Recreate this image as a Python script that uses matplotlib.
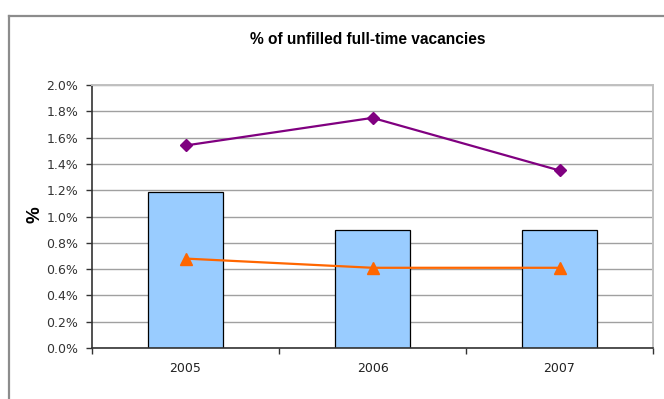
import matplotlib
matplotlib.use('Agg')
import matplotlib.pyplot as plt
from matplotlib.lines import Line2D
from matplotlib.ticker import FixedLocator, FuncFormatter

years = ['2005', '2006', '2007']
bar_values = [1.19, 0.90, 0.90]
purple_values = [1.54, 1.75, 1.35]
orange_values = [0.68, 0.61, 0.61]
y_ticks = [0.0, 0.2, 0.4, 0.6, 0.8, 1.0, 1.2, 1.4, 1.6, 1.8, 2.0]

W, H = 664, 399
fig = plt.figure(figsize=(W / 100, H / 100), dpi=100)
fig.patch.set_facecolor('white')

# outer chart border (top and left edges visible)
fig.add_artist(Line2D([8.5 / W, 8.5 / W], [0, 1 - 15.5 / H], transform=fig.transFigure,
                      color='#8c8c8c', lw=1.6))
fig.add_artist(Line2D([8.5 / W, 1], [1 - 15.5 / H, 1 - 15.5 / H], transform=fig.transFigure,
                      color='#8c8c8c', lw=1.6))

ax = fig.add_axes([92 / W, (H - 348) / H, 561 / W, 263 / H])
x = list(range(len(years)))

ax.bar(x, bar_values, width=0.4, color='#99ccff', edgecolor='black', linewidth=0.9, zorder=2)
ax.plot(x, purple_values, color='#800080', marker='D', markersize=6.5, lw=1.6, zorder=3)
ax.plot(x, orange_values, color='#ff6600', marker='^', markersize=8.5, lw=1.6, zorder=3)

ax.set_xlim(-0.5, 2.5)
ax.set_ylim(0, 2.0)
ax.yaxis.set_major_locator(FixedLocator(y_ticks))
ax.yaxis.set_major_formatter(FuncFormatter(lambda v, p: f'{v:.1f}%'))
ax.grid(axis='y', color='#a0a0a0', lw=1.0, zorder=0)

ax.set_xticks(x)
ax.set_xticklabels(years)
ax.set_xticks([-0.5, 0.5, 1.5, 2.5], minor=True)
ax.tick_params(axis='x', which='major', length=0, pad=10, labelsize=9, labelcolor='#222222')
ax.tick_params(axis='x', which='minor', length=4, width=1.0, color='#333333')
ax.tick_params(axis='y', length=4, width=1.0, color='#333333', pad=6, labelsize=9,
               labelcolor='#333333')

for side in ['left', 'bottom']:
    ax.spines[side].set_color('#333333')
    ax.spines[side].set_linewidth(1.2)
for side in ['top', 'right']:
    ax.spines[side].set_color('#c0c0c0')
    ax.spines[side].set_linewidth(1.4)

fig.text(368 / W, 1 - 39 / H, '% of unfilled full-time vacancies', ha='center', va='center',
         fontsize=11.2, fontweight='bold', family='Liberation Sans')
fig.text(35 / W, 1 - 215 / H, '%', ha='center', va='center', rotation=90,
         fontsize=13.5, fontweight='bold', family='Liberation Sans')

fig.savefig('out.png', dpi=100)
